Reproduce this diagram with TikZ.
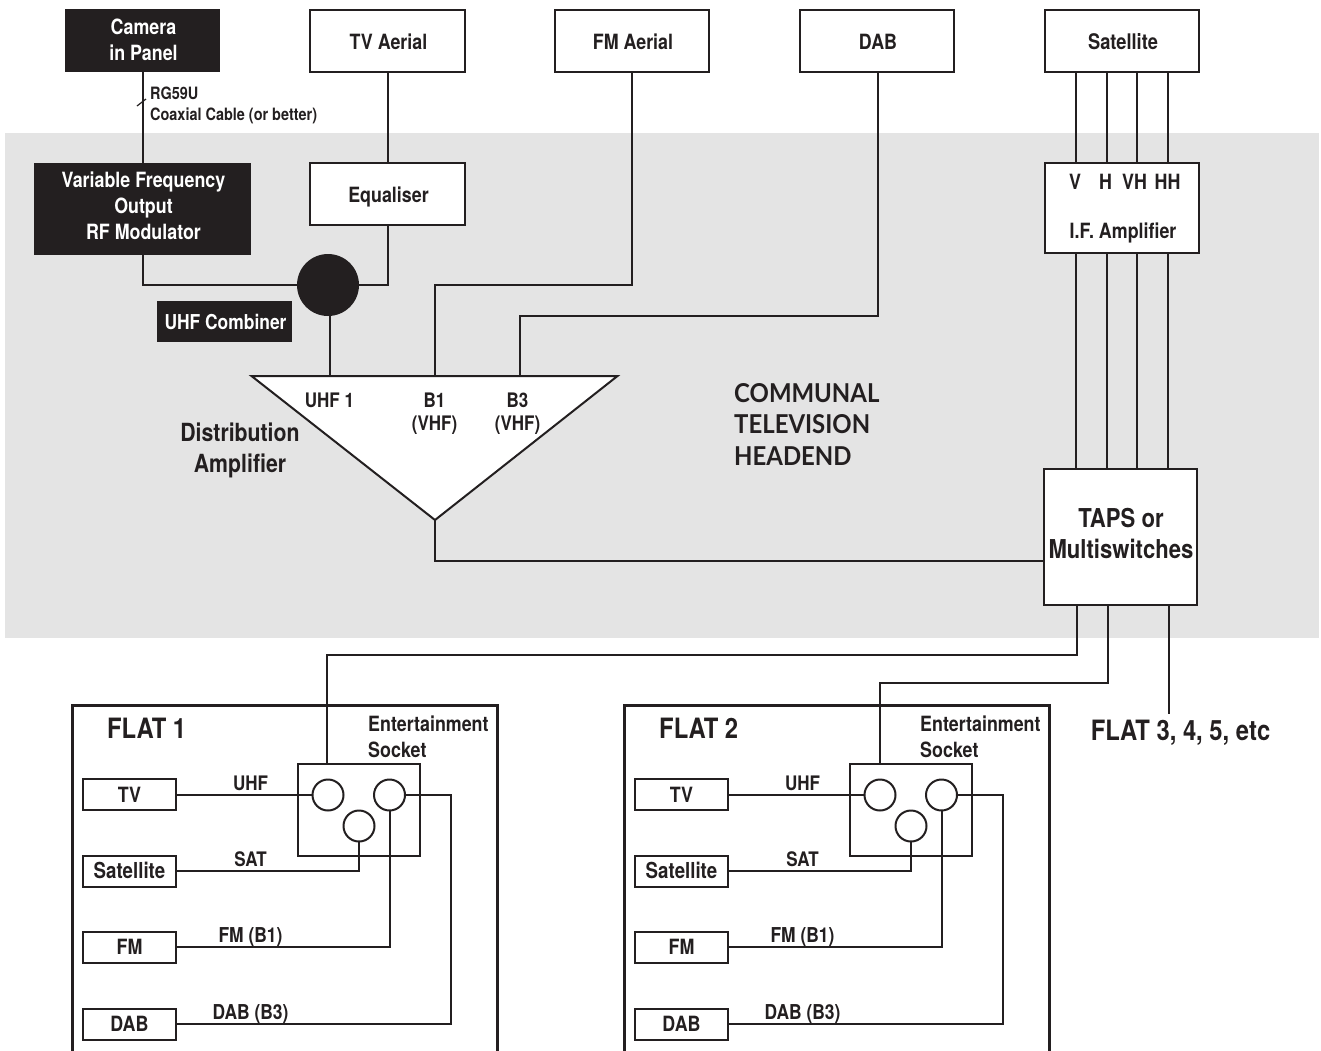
\documentclass[tikz,border=0pt]{standalone}
\usepackage{fontspec}
\setmainfont[FakeStretch=0.85,BoldFeatures={FakeStretch=0.85}]{TeX Gyre Heros}
\newfontfamily\headfont[FakeStretch=0.92]{Lato Bold}
\definecolor{ink}{HTML}{231F20}
\definecolor{band}{HTML}{E4E4E4}
\newcommand{\sz}[1]{\fontsize{#1}{#1}\selectfont\bfseries}
\tikzset{
  wire/.style={draw=ink,line width=2pt,line join=miter},
  box/.style={draw=ink,line width=2pt,fill=white,inner sep=0pt,outer sep=0pt},
  blackbox/.style={fill=ink,inner sep=0pt,outer sep=0pt},
  lab/.style={text=ink,inner sep=0pt,align=center,font=\sz{21}},
  revlab/.style={lab,text=white},
  flatbox/.style={box,minimum width=93pt,minimum height=31pt},
  jack/.style={circle,draw=ink,line width=2pt,minimum size=31pt,inner sep=0pt,outer sep=0pt},
}
\begin{document}
\begin{tikzpicture}[x=1pt,y=-1pt]
\useasboundingbox (0,0) rectangle (1321,1050);
\fill[white] (0,0) rectangle (1321,1050);
\fill[band] (5,133) rectangle (1319,638);
% top row
\node[blackbox,minimum width=155pt,minimum height=63pt] (cam) at (142.5,40.5) {};
\node[revlab] (camt) at (143.5,39.5) {Camera\\[5pt]in Panel};
\node[box,minimum width=155pt,minimum height=62pt] (tva) at (387.5,41) {};
\node[lab] (tvat) at (388.5,42) {TV Aerial};
\node[box,minimum width=154pt,minimum height=62pt] (fma) at (632,41) {};
\node[lab] (fmat) at (633,42) {FM Aerial};
\node[box,minimum width=154pt,minimum height=62pt] (dab) at (877,41) {};
\node[lab] (dabt) at (878,42) {DAB};
\node[box,minimum width=154pt,minimum height=62pt] (sat) at (1122,41) {};
\node[lab,font=\sz{21.5}] (satt) at (1123,42) {Satellite};
% headend
\node[blackbox,minimum width=217pt,minimum height=92pt] (mod) at (142.5,209) {};
\node[revlab] (modt) at (143.5,206) {Variable Frequency\\[5pt]Output\\[5pt]RF Modulator};
\node[box,minimum width=155pt,minimum height=62pt] (eq) at (387.5,194) {};
\node[lab] (eqt) at (388.5,197) {Equaliser};
\node[circle,fill=ink,minimum size=62pt,inner sep=0pt,outer sep=0pt] (comb) at (328,285) {};
\node[blackbox,minimum width=135pt,minimum height=41pt] (combl) at (224.5,321.5) {};
\node[revlab,font=\sz{20.5}] (comblt) at (225.5,321.5) {UHF Combiner};
\node[box,minimum width=154pt,minimum height=90pt] (ifa) at (1122,208) {};
\node[box,minimum width=153pt,minimum height=136pt] (taps) at (1120.5,537) {};
% triangle
\coordinate (trl) at (251.5,376);
\coordinate (trr) at (617.5,376);
\coordinate (trb) at (435,520);
\fill[white,draw=ink,line width=2pt,line join=miter] (trl) -- (trr) -- (trb) -- cycle;
% connectors of the headend
\draw[wire] (cam.south) -- (mod.north);
\draw[wire,line width=1.2pt] (137,106) -- (146,99);
\draw[wire] (388,0 |- tva.south) -- (388,0 |- eq.north);
\draw[wire] (mod.south) |- (comb.west);
\draw[wire] (388,0 |- eq.south) |- (comb.east);
\draw[wire] (330,0 |- comb.south) -- (330,0 |- trl);
\draw[wire] (fma.south) |- (435,285) -- (435,0 |- trl);
\draw[wire] (878,0 |- dab.south) |- (520,316) -- (520,0 |- trr);
\foreach \x in {1076,1107,1137,1168}{
  \draw[wire] (\x,0 |- sat.south) -- (\x,0 |- ifa.north);
  \draw[wire] (\x,0 |- ifa.south) -- (\x,0 |- taps.north);
}
\draw[wire] (trb) |- (taps.west |- 0,561);
% labels of the headend
\node[lab,font=\sz{17},align=left,anchor=north west] (rg) at (150,87) {RG59U\\[4pt]Coaxial Cable (or better)};
\node[lab] (lv) at (1075,181.5) {V};
\node[lab] (lh) at (1105.5,181.5) {H};
\node[lab] (lvh) at (1134.5,181.5) {VH};
\node[lab] (lhh) at (1167.5,181.5) {HH};
\node[lab] (lif) at (1123,233) {I.F. Amplifier};
\node[lab,font=\sz{26}] (ltaps) at (1121,533) {TAPS or\\[5pt]Multiswitches};
\node[lab,font=\sz{20}] (l1) at (329.5,400) {UHF 1};
\node[lab,font=\sz{20}] (l2) at (434.5,413.5) {B1\\[3pt](VHF)};
\node[lab,font=\sz{20}] (l3) at (517.5,413.5) {B3\\[3pt](VHF)};
\node[lab,font=\sz{25}] (ldist) at (240,450) {Distribution\\[6pt]Amplifier};
\node[text=ink,inner sep=0pt,align=left,anchor=west,font={\headfont\fontsize{26}{31.5}\selectfont}] (lhead) at (734,424) {COMMUNAL\\TELEVISION\\HEADEND};
% flats
\foreach \dx/\n/\lbl in {0/a/FLAT 1,552/b/FLAT 2}{
\begin{scope}[xshift=\dx pt,name prefix=\n-]
  \draw[wire,line width=3pt] (72,1052) -- (72,705) -- (497,705) -- (497,1052);
  \node[lab,font=\sz{28},anchor=west] (title) at (107,728) {\lbl};
  \node[lab,align=left,anchor=north west] (ent) at (368,716) {Entertainment\\[5pt]Socket};
  \node[draw=ink,line width=2pt,minimum width=122pt,minimum height=92pt,inner sep=0pt,outer sep=0pt] (sock) at (359,810) {};
  \node[jack] (j1) at (328,795) {};
  \node[jack] (j2) at (389.5,795) {};
  \node[jack] (j3) at (359,826) {};
  \node[flatbox] (tv) at (129.5,794.5) {};
  \node[flatbox] (st) at (129.5,871.5) {};
  \node[flatbox] (fm) at (129.5,947.5) {};
  \node[flatbox] (db) at (129.5,1024.5) {};
  \node[lab] (tvt) at (129.5,794.5) {TV};
  \node[lab,font=\sz{22}] (stt) at (129.5,870.5) {Satellite};
  \node[lab] (fmt) at (129.5,946.5) {FM};
  \node[lab] (dbt) at (129.5,1023.5) {DAB};
  \draw[wire] (tv.east |- j1.west) -- (j1.west);
  \draw[wire] (st.east |- 0,871) -| (j3.south);
  \draw[wire] (fm.east |- 0,947) -| (j2.south);
  \draw[wire] (db.east |- 0,1024) -| (451,795) -- (j2.east);
  \node[lab,font=\sz{20}] (t1) at (250.5,783) {UHF};
  \node[lab,font=\sz{20}] (t2) at (250.5,859) {SAT};
  \node[lab,font=\sz{20.5}] (t3) at (250.5,937) {FM (B1)};
  \node[lab,font=\sz{20.5}] (t4) at (250.5,1014) {DAB (B3)};
\end{scope}
}
\draw[wire] (1077,0 |- taps.south) |- (327,655) -- (327,0 |- a-sock.north);
\draw[wire] (1108,0 |- taps.south) |- (880,683) -- (880,0 |- b-sock.north);
\coordinate (free) at (1169,714);
\draw[wire] (free |- taps.south) -- (free);
\node[lab,font=\sz{28}] (f3) at (1180.5,733) {FLAT 3, 4, 5, etc};
\end{tikzpicture}
\end{document}
